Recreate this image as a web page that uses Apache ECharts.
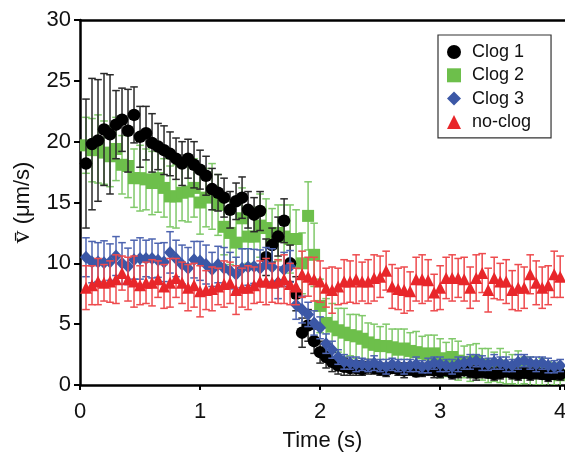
<!DOCTYPE html>
<html>
<head>
<meta charset="utf-8">
<script src="https://cdn.jsdelivr.net/npm/echarts@6/dist/echarts.min.js"></script>
<style>html,body{margin:0;padding:0;background:#fff}#c{width:565px;height:453px}</style>
</head>
<body>
<div id="c"></div>
<script>
const times = [0.05,0.10,0.15,0.20,0.25,0.30,0.35,0.40,0.45,0.50,0.55,0.60,0.65,0.70,0.75,0.80,0.85,0.90,0.95,1.00,
1.05,1.10,1.15,1.20,1.25,1.30,1.35,1.40,1.45,1.50,1.55,1.60,1.65,1.70,1.75,1.80,1.85,1.90,1.95,2.00,
2.05,2.10,2.15,2.20,2.25,2.30,2.35,2.40,2.45,2.50,2.55,2.60,2.65,2.70,2.75,2.80,2.85,2.90,2.95,3.00,
3.05,3.10,3.15,3.20,3.25,3.30,3.35,3.40,3.45,3.50,3.55,3.60,3.65,3.70,3.75,3.80,3.85,3.90,3.95,4.00];

const clog1 = [18.2,19.8,20.1,21.0,20.6,21.4,21.8,20.9,22.2,20.4,
20.7,19.9,19.6,19.3,19.0,18.6,18.2,18.6,18.1,17.7,
17.2,16.1,15.8,15.4,14.4,15.1,15.4,14.4,14.0,14.3,
10.5,11.5,12.2,13.5,10.0,7.5,4.3,4.9,3.6,2.7,
2.3,1.9,1.6,1.5,1.4,1.4,1.3,1.5,1.4,1.3,
1.2,1.4,1.3,1.2,1.3,1.1,1.2,1.3,1.2,1.1,
1.2,1.0,1.1,1.2,1.1,1.0,1.1,1.0,0.9,1.0,
1.1,1.0,0.9,1.0,0.9,1.0,0.9,0.8,0.9,0.9];
const clog1Err = [5.3,5.4,5.0,4.6,4.9,2.8,2.6,3.4,2.3,2.5,
2.2,2.4,1.9,2.0,1.8,1.7,1.8,1.6,1.9,1.6,
1.6,1.7,1.5,1.6,1.5,1.5,1.7,1.5,1.4,1.6,
1.5,1.4,1.6,1.8,1.5,1.4,1.2,1.3,1.0,0.9,
0.9,0.8,0.7,0.7,0.6,0.6,0.5,0.6,0.5,0.5,
0.5,0.4,0.5,0.6,0.5,0.4,0.5,0.5,0.6,0.5,
0.4,0.5,0.5,0.4,0.5,0.6,0.5,0.4,0.5,0.5,
0.4,0.5,0.5,0.4,0.5,0.5,0.4,0.5,0.4,0.5];

const clog2 = [19.7,19.3,19.4,19.1,18.8,19.4,18.1,18.0,17.0,17.0,
16.9,16.6,17.0,16.2,15.5,15.5,15.8,15.9,16.2,15.0,
15.4,15.5,14.8,13.0,12.5,11.7,13.7,12.2,12.2,13.1,
12.9,12.0,12.5,12.2,12.0,12.0,10.0,13.9,10.7,6.5,
5.1,4.8,4.5,4.3,4.1,4.0,3.8,3.5,3.3,3.2,
3.2,3.1,2.9,3.0,2.8,2.7,2.6,2.5,2.6,2.2,
2.1,2.3,2.0,1.9,1.8,2.0,1.7,1.6,1.5,1.6,
1.4,1.3,1.4,1.2,1.1,1.0,1.1,0.9,0.9,0.8];
const clog2Err = [2.3,2.6,2.8,2.6,2.5,2.6,2.4,2.6,2.4,2.7,
2.5,2.6,2.8,2.4,2.5,2.6,2.3,2.5,2.4,2.6,
2.4,2.7,2.5,2.3,2.6,2.4,2.5,2.2,2.4,2.6,
2.4,2.5,2.3,2.6,2.8,2.4,2.5,2.8,2.6,2.2,
2.0,1.9,1.8,2.0,1.7,1.8,1.9,1.6,1.7,1.6,
1.8,1.5,1.7,1.6,1.5,1.7,1.4,1.6,1.5,1.6,
1.4,1.5,1.6,1.3,1.5,1.4,1.3,1.4,1.2,1.4,
1.3,1.2,1.4,1.1,1.2,1.0,1.1,1.0,0.9,0.9];

const clog3 = [10.5,10.1,10.1,10.05,10.1,10.6,10.0,9.75,10.3,10.4,
10.4,10.4,10.25,10.1,10.9,10.4,9.9,9.6,10.3,10.2,
9.9,9.5,9.9,9.6,9.4,9.1,9.6,9.7,9.75,9.6,
9.9,9.7,8.4,9.5,9.75,6.6,6.2,5.8,5.1,4.7,
3.4,2.9,2.3,1.9,1.8,1.7,1.7,1.6,1.8,1.6,
1.5,1.7,1.6,1.5,1.6,1.7,1.5,1.6,1.8,1.7,
1.6,1.5,1.7,1.8,1.9,2.0,1.8,1.7,1.9,1.8,
1.7,1.6,1.9,2.0,1.8,1.7,1.8,1.6,1.5,1.6];
const clog3Err = [1.6,1.7,1.6,1.8,1.5,1.6,1.7,1.5,1.6,1.7,
1.5,1.6,1.4,1.6,1.7,1.5,1.6,1.7,1.5,1.6,
1.6,1.4,1.5,1.7,1.5,1.4,1.6,1.5,1.4,1.5,
1.4,1.5,1.3,1.4,1.3,1.2,1.1,1.0,1.0,0.9,
0.8,0.7,0.6,0.6,0.5,0.6,0.5,0.5,0.6,0.5,
0.6,0.5,0.5,0.6,0.5,0.6,0.5,0.6,0.5,0.6,
0.5,0.6,0.6,0.5,0.6,0.5,0.6,0.5,0.6,0.5,
0.6,0.5,0.6,0.5,0.5,0.6,0.5,0.6,0.5,0.5];

const noClog = [8.0,8.2,8.5,8.4,8.5,8.7,9.2,8.7,8.5,8.2,
8.4,8.4,8.7,8.1,8.4,8.8,8.4,8.0,8.2,7.7,
7.8,7.9,8.1,8.3,8.4,7.8,8.0,8.0,8.2,8.5,
8.5,8.4,8.5,8.7,8.3,8.1,9.1,8.9,8.7,8.5,
8.0,7.8,8.1,8.5,8.5,8.7,8.5,8.5,8.8,8.9,
9.4,8.1,7.9,7.8,7.7,8.7,8.7,8.6,7.6,8.0,
8.8,8.8,8.8,8.7,8.0,8.8,9.2,7.8,8.8,8.5,
8.5,7.8,8.0,8.0,9.1,8.4,8.0,8.2,9.1,8.9];
const noClogErr = [1.8,1.6,1.9,1.5,1.7,2.0,1.4,1.8,2.1,1.6,
1.7,1.9,1.5,1.8,2.0,1.6,1.7,1.9,1.8,2.1,
1.6,1.8,1.5,1.9,1.7,2.0,1.6,1.8,1.5,1.7,
1.9,1.6,1.8,2.0,1.7,1.5,1.9,1.6,1.8,1.7,
1.6,1.9,1.5,1.8,1.7,2.0,1.6,1.8,1.9,1.7,
1.6,1.8,1.7,1.9,1.6,1.8,2.0,1.7,1.5,1.8,
1.7,1.9,1.6,1.8,1.7,1.9,1.6,1.8,1.7,1.5,
1.8,1.6,1.9,1.7,1.6,1.8,1.7,1.6,1.9,1.7];

const seriesNames = ['Clog 1','Clog 2','Clog 3','no-clog'];
const xTicks = [0,1,2,3,4];
const yTicks = [0,5,10,15,20,25,30];

const FONT = 'Liberation Sans, Arial, Helvetica, sans-serif';

function errData(v, e) { return times.map((t, i) => [t, v[i] - e[i], v[i] + e[i]]); }
function ptData(v) { return times.map((t, i) => [t, v[i]]); }

function errRender(params, api) {
  const x = api.value(0), lo = api.value(1), hi = api.value(2);
  const p1 = api.coord([x, hi]);
  const p2 = api.coord([x, lo]);
  const hw = 3.8;
  const style = { stroke: api.visual('color'), lineWidth: 1.5 };
  return {
    type: 'group',
    children: [
      { type: 'line', shape: { x1: p1[0], y1: p1[1], x2: p2[0], y2: p2[1] }, style: style },
      { type: 'line', shape: { x1: p1[0] - hw, y1: p1[1], x2: p1[0] + hw, y2: p1[1] }, style: style },
      { type: 'line', shape: { x1: p2[0] - hw, y1: p2[1], x2: p2[0] + hw, y2: p2[1] }, style: style }
    ]
  };
}

const specs = [
  { name: 'Clog 2', v: clog2, e: clog2Err, color: '#6dbf4b', bar: '#80c96a', symbol: 'rect', size: 12, z: 2 },
  { name: 'Clog 1', v: clog1, e: clog1Err, color: '#000000', bar: '#2a2a2a', symbol: 'circle', size: 12.5, z: 4 },
  { name: 'Clog 3', v: clog3, e: clog3Err, color: '#3b57a6', bar: '#4d64b0', symbol: 'diamond', size: [12, 13], z: 6 },
  { name: 'no-clog', v: noClog, e: noClogErr, color: '#e8262a', bar: '#ee4b4e', symbol: 'triangle', size: [12, 12], z: 8 }
];

const series = [];
specs.forEach(s => {
  series.push({
    name: s.name + ' err', type: 'custom', renderItem: errRender, clip: true,
    itemStyle: { color: s.bar }, data: errData(s.v, s.e), z: s.z, silent: true,
    encode: { x: 0, y: [1, 2] }
  });
  series.push({
    name: s.name, type: 'scatter', symbol: s.symbol, symbolSize: s.size,
    itemStyle: { color: s.color, opacity: 1 }, data: ptData(s.v), z: s.z + 1, clip: true
  });
});

const chart = echarts.init(document.getElementById('c'), null, { renderer: 'canvas' });
chart.setOption({
  animation: false,
  backgroundColor: '#fff',
  grid: { left: 80, top: 20, width: 485, height: 365, containLabel: false, outerBoundsMode: 'none' },
  legend: {
    data: seriesNames,
    orient: 'vertical',
    left: 438, top: 35,
    padding: [8, 20, 7, 9],
    itemWidth: 14, itemHeight: 14, itemGap: 5.3,
    borderColor: '#333', borderWidth: 1.2,
    textStyle: { fontFamily: FONT, fontSize: 18, color: '#111', lineHeight: 18, padding: [0, 0, 0, 6] }
  },
  xAxis: [{
    type: 'value', min: 0, max: 4.04, interval: 1,
    name: 'Time (s)', nameLocation: 'middle', nameGap: 45,
    nameTextStyle: { fontFamily: FONT, fontSize: 22, color: '#111' },
    axisLine: { show: true, onZero: false, lineStyle: { color: '#000', width: 2.5 } },
    axisTick: { show: true, inside: false, length: 5, lineStyle: { color: '#000', width: 2 } },
    axisLabel: { fontFamily: FONT, fontSize: 22, color: '#111', margin: 16,
      formatter: v => xTicks.indexOf(v) >= 0 ? String(v) : '' },
    splitLine: { show: false }
  }, {
    type: 'value', min: 0, max: 4.04, position: 'top',
    axisLine: { show: true, onZero: false, lineStyle: { color: '#000', width: 2.5 } },
    axisTick: { show: false }, axisLabel: { show: false }, splitLine: { show: false }
  }],
  yAxis: {
    type: 'value', min: 0, max: 30, interval: 5,
    name: '{v|v\u0304} (\u03bcm/s)', nameLocation: 'middle', nameGap: 34, nameRotate: 90,
    nameTextStyle: { fontFamily: FONT, fontSize: 22, color: '#111',
      rich: { v: { fontFamily: 'Liberation Serif, DejaVu Serif, serif', fontSize: 26, color: '#111' } } },
    axisLine: { show: true, onZero: false, lineStyle: { color: '#000', width: 2.5 } },
    axisTick: { show: true, inside: false, length: 6, lineStyle: { color: '#000', width: 2 } },
    axisLabel: { fontFamily: FONT, fontSize: 22, color: '#111', margin: 9,
      formatter: v => yTicks.indexOf(v) >= 0 ? String(v) : '' },
    splitLine: { show: false }
  },
  series: series
});
</script>
</body>
</html>
